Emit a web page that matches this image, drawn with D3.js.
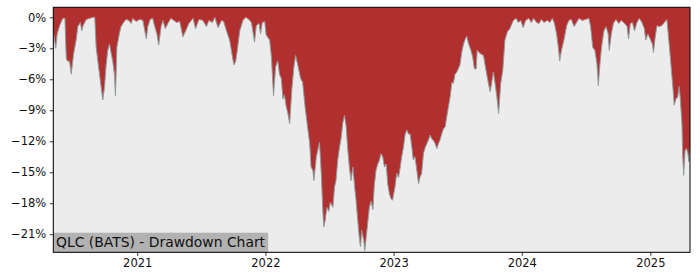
<!DOCTYPE html>
<html><head><meta charset="utf-8">
<script src="https://cdn.jsdelivr.net/npm/d3@7"></script>
<style>
body{margin:0;background:#fff;}
svg{display:block;font-family:"DejaVu Sans",sans-serif;}
</style></head>
<body><svg id="c" width="700" height="280"></svg>
<script>
const title = "QLC (BATS) - Drawdown Chart";
const dates = [
"2020-05-07","2020-05-14","2020-05-18","2020-05-25","2020-06-03","2020-06-09","2020-06-13","2020-06-18","2020-06-22","2020-06-27",
"2020-07-04","2020-07-11","2020-07-16","2020-07-23","2020-07-27","2020-07-31","2020-08-09","2020-08-19","2020-08-28","2020-09-02",
"2020-09-06","2020-09-14","2020-09-20","2020-09-25","2020-09-30","2020-10-04","2020-10-09","2020-10-14","2020-10-19","2020-10-23",
"2020-10-28","2020-10-31","2020-11-04","2020-11-11","2020-11-16","2020-11-23","2020-11-30","2020-12-08","2020-12-15","2020-12-19",
"2020-12-29","2021-01-08","2021-01-17","2021-01-27","2021-01-31","2021-02-07","2021-02-14","2021-02-19","2021-02-26","2021-03-03",
"2021-03-10","2021-03-15","2021-03-22","2021-03-29","2021-04-07","2021-04-23","2021-05-02","2021-05-11","2021-05-19","2021-05-28",
"2021-06-09","2021-06-16","2021-06-26","2021-07-07","2021-07-17","2021-07-24","2021-08-03","2021-08-10","2021-08-19","2021-08-29",
"2021-09-04","2021-09-12","2021-09-21","2021-09-29","2021-10-03","2021-10-08","2021-10-13","2021-10-20","2021-10-29","2021-11-06",
"2021-11-15","2021-11-22","2021-11-26","2021-12-01","2021-12-06","2021-12-14","2021-12-18","2021-12-23","2021-12-30","2022-01-03",
"2022-01-13","2022-01-18","2022-01-24","2022-01-30","2022-02-05","2022-02-10","2022-02-15","2022-02-20","2022-02-24","2022-03-01",
"2022-03-06","2022-03-11","2022-03-17","2022-03-23","2022-03-28","2022-04-03","2022-04-11","2022-04-17","2022-04-24","2022-05-02",
"2022-05-07","2022-05-11","2022-05-16","2022-05-19","2022-05-26","2022-05-30","2022-06-04","2022-06-09","2022-06-13","2022-06-16",
"2022-06-20","2022-06-25","2022-06-30","2022-07-05","2022-07-12","2022-07-17","2022-07-21","2022-07-26","2022-07-31","2022-08-05",
"2022-08-09","2022-08-14","2022-08-19","2022-08-23","2022-08-28","2022-09-02","2022-09-07","2022-09-12","2022-09-16","2022-09-21",
"2022-09-26","2022-09-29","2022-10-02","2022-10-08","2022-10-11","2022-10-15","2022-10-19","2022-10-24","2022-10-29","2022-11-03",
"2022-11-07","2022-11-12","2022-11-17","2022-11-22","2022-11-26","2022-12-01","2022-12-06","2022-12-11","2022-12-15","2022-12-20",
"2022-12-25","2022-12-29","2023-01-05","2023-01-10","2023-01-15","2023-01-20","2023-01-24","2023-01-29","2023-02-03","2023-02-08",
"2023-02-12","2023-02-17","2023-02-22","2023-02-26","2023-03-03","2023-03-08","2023-03-13","2023-03-17","2023-03-22","2023-03-27",
"2023-04-01","2023-04-06","2023-04-10","2023-04-15","2023-04-20","2023-04-24","2023-04-29","2023-05-04","2023-05-09","2023-05-13",
"2023-05-18","2023-05-23","2023-05-28","2023-06-01","2023-06-06","2023-06-11","2023-06-16","2023-06-20","2023-06-25","2023-06-30",
"2023-07-04","2023-07-09","2023-07-14","2023-07-19","2023-07-23","2023-07-28","2023-08-02","2023-08-09","2023-08-14","2023-08-19",
"2023-08-24","2023-08-27","2023-09-04","2023-09-14","2023-09-21","2023-09-28","2023-10-03","2023-10-07","2023-10-12","2023-10-17",
"2023-10-22","2023-10-27","2023-11-02","2023-11-08","2023-11-14","2023-11-21","2023-11-28","2023-12-08","2023-12-16","2023-12-22",
"2023-12-29","2024-01-05","2024-01-12","2024-01-21","2024-01-28","2024-02-04","2024-02-12","2024-02-19","2024-02-26","2024-03-04",
"2024-03-14","2024-03-21","2024-03-28","2024-04-03","2024-04-09","2024-04-14","2024-04-18","2024-04-23","2024-04-30","2024-05-08",
"2024-05-14","2024-05-21","2024-05-29","2024-06-05","2024-06-12","2024-06-21","2024-07-01","2024-07-10","2024-07-15","2024-07-21",
"2024-07-27","2024-08-02","2024-08-06","2024-08-09","2024-08-15","2024-08-22","2024-08-28","2024-09-03","2024-09-06","2024-09-12",
"2024-09-18","2024-09-25","2024-10-03","2024-10-10","2024-10-20","2024-10-27","2024-10-31","2024-11-05","2024-11-11","2024-11-17",
"2024-11-24","2024-12-01","2024-12-08","2024-12-15","2024-12-19","2024-12-25","2025-01-02","2025-01-07","2025-01-10","2025-01-15",
"2025-01-20","2025-01-26","2025-02-03","2025-02-10","2025-02-17","2025-02-21","2025-02-26","2025-03-03","2025-03-07","2025-03-10",
"2025-03-15","2025-03-20","2025-03-24","2025-03-27","2025-04-01","2025-04-03","2025-04-06","2025-04-10","2025-04-14","2025-04-18",
"2025-04-21","2025-04-24"
];
const drawdown = [
-1.4,-3.0,-1.6,-0.8,-0.1,-0.1,-4.0,-4.3,-4.2,-5.5,
-3.5,-2.2,-0.9,-0.5,-1.3,-0.8,-0.2,-0.1,0,0,
-2.9,-5.1,-6.7,-8.0,-6.7,-4.8,-3.2,-2.6,-3.5,-4.2,
-5.5,-7.6,-2.9,-1.6,-0.9,-0.5,-0.2,-0.3,-0.6,-0.1,
-0.4,-0.2,-0.3,-2.1,-0.9,-0.2,-0.1,-0.8,-1.6,-2.7,
-0.9,-0.3,-1.1,-0.6,-0.1,-0.5,-0.4,-1.9,-1.3,-0.6,
-0.1,-1.1,-0.2,-0.3,-0.9,-0.3,-0.5,0,-1.0,-0.3,
-0.4,-1.3,-2.2,-3.8,-4.6,-4.3,-3.2,-1.3,-0.3,0,
-0.2,-0.5,-1.3,-2.4,-0.8,-0.6,-1.6,-0.5,-0.4,-1.7,
-2.2,-3.8,-7.6,-4.8,-4.2,-5.5,-5.9,-7.9,-7.5,-8.6,
-9.3,-10.3,-7.1,-4.8,-3.7,-4.6,-5.9,-6.3,-8.7,-10.9,
-12.2,-14.5,-14.8,-15.8,-13.5,-12.9,-12.1,-15.1,-18.4,-20.3,
-19.7,-18.4,-18.8,-17.9,-18.4,-16.4,-15.8,-13.8,-12.6,-11.6,
-10.3,-9.5,-10.6,-12.6,-14.5,-15.8,-14.5,-16.4,-17.7,-19.7,
-21.6,-22.2,-20.6,-21.6,-22.6,-21.3,-20.0,-18.4,-17.8,-18.6,
-16.3,-14.8,-14.2,-13.8,-13.2,-13.5,-14.5,-14.2,-16.1,-17.1,
-17.6,-17.7,-16.4,-15.1,-15.5,-14.5,-13.5,-12.6,-11.3,-10.9,
-11.3,-11.3,-12.6,-13.8,-13.5,-14.8,-16.1,-15.5,-15.1,-13.2,
-12.6,-12.2,-11.9,-11.4,-11.8,-11.9,-12.2,-12.7,-12.2,-11.9,
-11.3,-10.8,-10.6,-9.7,-8.7,-7.7,-6.3,-6.4,-5.5,-5.3,
-5.0,-4.6,-3.4,-2.6,-2.2,-1.8,-2.5,-3.2,-3.8,-5.0,
-5.0,-3.2,-3.5,-3.7,-5.1,-6.4,-7.2,-6.4,-5.3,-6.4,
-7.7,-9.3,-6.4,-5.1,-2.2,-1.4,-1.1,-0.3,-0.1,-0.5,
-0.3,-1.0,-0.3,-0.1,-0.5,-0.1,-0.5,-0.6,-0.2,-0.5,
-0.3,-0.5,-0.1,-0.6,-1.6,-2.9,-4.2,-3.2,-2.2,-0.8,
-0.3,-0.2,-0.9,-0.5,-0.1,-0.3,-0.2,-0.1,-0.9,-2.9,
-3.2,-4.5,-6.6,-5.1,-2.9,-1.3,-0.9,-1.6,-3.2,-1.6,
-0.6,-0.2,-0.6,-0.3,-0.6,-0.9,-2.1,-0.6,-0.5,-1.3,
-0.5,-0.1,-0.5,-1.1,-2.2,-1.6,-2.2,-2.6,-3.4,-1.9,
-0.8,-0.9,-0.8,-0.5,-0.2,-1.6,-3.5,-5.5,-7.1,-8.5,
-7.9,-7.7,-6.7,-7.7,-10.3,-13.2,-15.3,-12.9,-12.7,-13.2,
-14.0,-12.6
];
const yTicks = [0,-3,-6,-9,-12,-15,-18,-21];
const xTickYears = ["2021","2022","2023","2024","2025"];
const yDomain = [-22.75, 0.97];

const parse = d3.utcParse("%Y-%m-%d");
const data = dates.map((d,i)=>({date:parse(d), v:drawdown[i]}));

const m = {l:53.3, r:690, t:7.3, b:252.3};
const svg = d3.select("#c");
const x = d3.scaleUtc().domain(d3.extent(data,d=>d.date)).range([m.l,m.r]);
const y = d3.scaleLinear().domain(yDomain).range([m.b,m.t]);

// red background (drawdown region)
svg.append("rect").attr("x",m.l).attr("y",m.t).attr("width",m.r-m.l).attr("height",m.b-m.t).attr("fill","#b03030");
// light area below curve
const area = d3.area().x(d=>x(d.date)).y0(m.b).y1(d=>y(d.v));
svg.append("path").datum(data).attr("d",area).attr("fill","#ececec");
const line = d3.line().x(d=>x(d.date)).y(d=>y(d.v));
svg.append("path").datum(data).attr("d",line).attr("fill","none").attr("stroke","#8f9c9c").attr("stroke-width",1);

// title box
const tb = svg.append("g");
const txt = tb.append("text").attr("x",56).attr("y",247).attr("font-size",13.9).attr("fill","#111").text(title);
const bb = txt.node().getBBox();
tb.insert("rect","text").attr("x",m.l).attr("y",232.7).attr("width",bb.x+bb.width+2.5-m.l).attr("height",m.b-232.7).attr("fill","#b2b2b2");

// axes
const yAxis = d3.axisLeft(y).tickValues(yTicks).tickSize(3.5).tickPadding(3.5)
  .tickFormat(d=> (d<0?"\u2212":"")+Math.abs(d)+"%");
const gy = svg.append("g").attr("transform",`translate(${m.l},0)`).call(yAxis);
const xt = xTickYears.map(s=>d3.utcParse("%Y")(s));
const xAxis = d3.axisBottom(x).tickValues(xt).tickSize(3.5).tickPadding(3.5).tickFormat(d3.utcFormat("%Y"));
const gx = svg.append("g").attr("transform",`translate(0,${m.b})`).call(xAxis);
[gx,gy].forEach(g=>{
  g.select(".domain").remove();
  g.selectAll("text").attr("font-size",11.5).attr("fill","#111").attr("font-family","DejaVu Sans");
  g.selectAll("line").attr("stroke","#000").attr("stroke-width",0.8);
});
// frame
svg.append("rect").attr("x",m.l).attr("y",m.t).attr("width",m.r-m.l).attr("height",m.b-m.t)
  .attr("fill","none").attr("stroke","#000").attr("stroke-width",1);
</script></body></html>
